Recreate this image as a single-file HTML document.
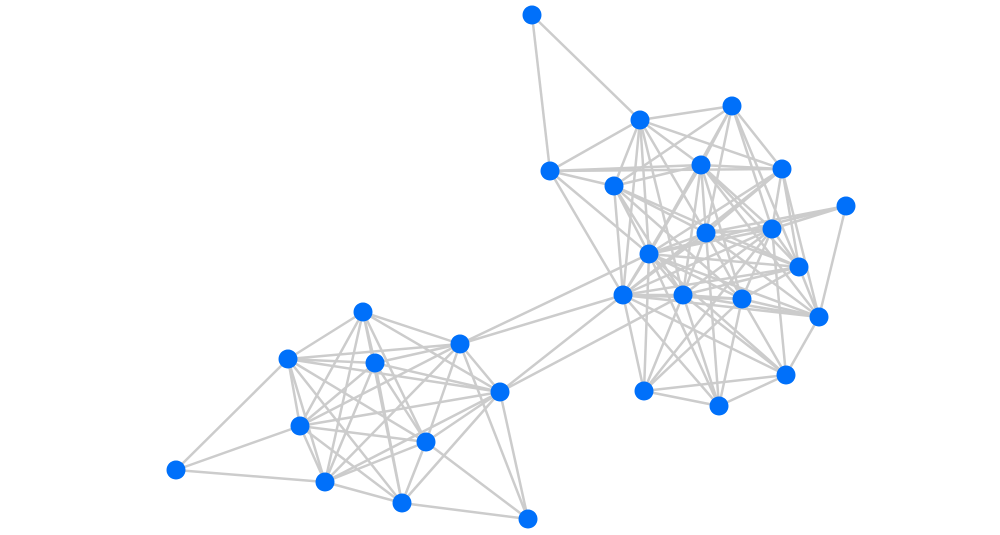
<!DOCTYPE html>
<html><head><meta charset="utf-8"><style>body{margin:0;background:#fff}svg{display:block}</style></head><body>
<svg width="1000" height="535" xmlns="http://www.w3.org/2000/svg">
<g id="e" stroke="#cccccc" stroke-width="2.5" fill="none"></g>
<g id="n" fill="#0070fa"></g>
</svg>
<script>
const N={A:[532,15],B:[640,120],C:[732,106],D:[550,171],E:[614,186],F:[701,165],G:[782,169],H:[846,206],I:[706,233],J:[772,229],K:[649,254],L:[799,267],M:[623,295],N:[683,295],O:[742,299],P:[819,317],Q:[644,391],R:[719,406],S:[786,375],
a:[363,312],b:[288,359],c:[375,363],d:[460,344],e:[500,392],f:[300,426],g:[426,442],h:[176,470],i:[325,482],j:[402,503],k:[528,519]};
const E="A-B A-D B-C B-D B-F B-K B-N B-I B-G B-M B-E C-F C-G C-E C-K C-I C-J C-L D-F D-G D-M D-K D-E E-F E-K E-O E-L E-M E-I E-N F-G F-K F-I F-J F-L F-M F-O F-P F-N G-K G-I G-J G-L G-P G-M H-J H-K H-P H-I I-J I-K I-M I-N I-O I-P I-L I-R J-K J-N J-O J-L J-M J-Q J-S K-L K-M K-N K-O K-P K-Q K-R K-S L-M L-N L-O L-P M-N M-O M-P M-Q M-R M-S N-O N-P N-Q N-R N-S O-P O-Q O-R O-S P-S Q-R R-S Q-S a-b a-c a-d a-f a-i a-g a-j a-e b-c b-d b-f b-i b-h b-g b-e b-j c-d c-f c-i c-g c-e c-j d-f d-i d-g d-e d-k d-M d-K e-f e-g e-j e-k e-i e-M e-N f-h f-g f-i f-j g-i g-j g-k h-i i-j j-k";
const eg=document.getElementById('e'),ng=document.getElementById('n');
let s='';for(const p of E.split(' ')){const[u,v]=p.split('-');s+=`<line x1="${N[u][0]}" y1="${N[u][1]}" x2="${N[v][0]}" y2="${N[v][1]}"/>`;}
eg.innerHTML=s;s='';for(const k in N)s+=`<circle cx="${N[k][0]}" cy="${N[k][1]}" r="9.5"/>`;ng.innerHTML=s;
</script>
</body></html>
